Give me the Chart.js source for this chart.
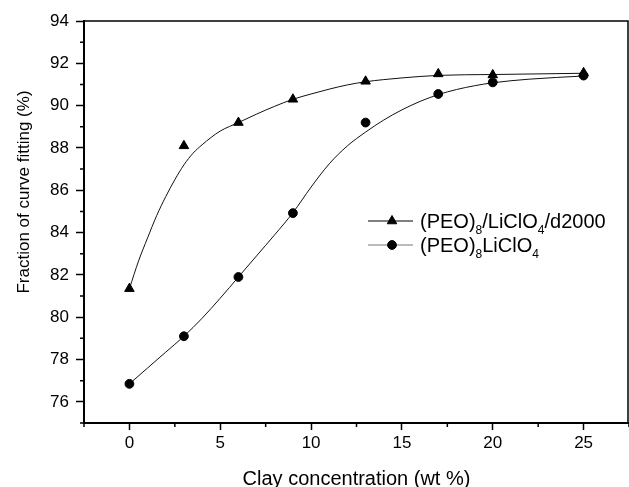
<!DOCTYPE html>
<html>
<head>
<meta charset="utf-8">
<script src="https://cdn.jsdelivr.net/npm/chart.js@4"></script>
<style>
  html, body { margin: 0; padding: 0; background: #fff; }
</style>
</head>
<body>
<canvas id="chart" width="629" height="487"></canvas>
<script>
// measured points
const clayConc = [0, 3, 6, 9, 13, 17, 20, 25];
const fracD2000 = [81.35, 88.1, 89.2, 90.3, 91.15, 91.5, 91.45, 91.55];
const fracPlain = [76.85, 79.1, 81.9, 84.92, 89.2, 90.55, 91.1, 91.42];

// fitted curves
const fitD2000X = [0, 0.5, 1, 1.5, 2, 2.5, 3, 3.5, 4, 4.5, 5, 6, 7, 8, 9, 10, 11, 12, 13, 14, 15, 17, 20, 25];
const fitD2000Y = [81.35, 82.65, 83.75, 84.8, 85.7, 86.5, 87.2, 87.75, 88.15, 88.5, 88.8, 89.2, 89.6, 89.97, 90.3, 90.55, 90.78, 90.98, 91.13, 91.23, 91.31, 91.43, 91.47, 91.53];
const fitPlainX = [0, 1, 2, 3, 4, 5, 6, 7, 8, 9, 10, 11, 12, 13, 14, 15, 16, 17, 18, 19, 20, 22, 25];
const fitPlainY = [76.85, 77.6, 78.35, 79.1, 79.95, 80.9, 81.9, 82.9, 83.9, 84.94, 86.15, 87.25, 88.1, 88.75, 89.32, 89.8, 90.2, 90.52, 90.76, 90.94, 91.08, 91.25, 91.4];

const seriesNames = ['(PEO)₈/LiClO₄/d2000', '(PEO)₈LiClO₄'];
// legend text pieces: normal, subscript, normal, subscript ...
const seriesLabelParts = [['(PEO)', '8', '/LiClO', '4', '/d2000'], ['(PEO)', '8', 'LiClO', '4']];
const legendLineColors = ['#000', '#777'];

const xTitle = 'Clay concentration (wt %)';
const yTitle = 'Fraction of curve fitting (%)';
const xTicks = [0, 5, 10, 15, 20, 25];
const xMinor = [-2.5, 2.5, 7.5, 12.5, 17.5, 22.5, 27.5];
const yTicks = [76, 78, 80, 82, 84, 86, 88, 90, 92, 94];
const yMinor = [75, 77, 79, 81, 83, 85, 87, 89, 91, 93];

const FONT = '"Liberation Sans", Arial, sans-serif';

function pts(xs, ys) {
  return xs.map((x, i) => ({ x: x, y: ys[i] }));
}

// minor ticks and the top/right frame
const frameTicks = {
  id: 'frameTicks',
  afterDraw(chart) {
    const { ctx, chartArea, scales } = chart;
    ctx.save();
    ctx.strokeStyle = '#000';
    ctx.lineWidth = 1.5;
    ctx.beginPath();
    xMinor.forEach(v => {
      const px = scales.x.getPixelForValue(v);
      ctx.moveTo(px, chartArea.bottom);
      ctx.lineTo(px, chartArea.bottom + 4);
    });
    yMinor.forEach(v => {
      const py = scales.y.getPixelForValue(v);
      ctx.moveTo(chartArea.left, py);
      ctx.lineTo(chartArea.left - 4, py);
    });
    ctx.stroke();
    ctx.beginPath();
    ctx.moveTo(chartArea.left, chartArea.top);
    ctx.lineTo(chartArea.right - 1, chartArea.top);
    ctx.lineTo(chartArea.right - 1, chartArea.bottom);
    ctx.stroke();
    ctx.restore();
  }
};

// y title sits a bit above the middle in the original
const yTitlePlugin = {
  id: 'yTitlePlugin',
  afterDraw(chart) {
    const ctx = chart.ctx;
    ctx.save();
    ctx.translate(24, 192);
    ctx.rotate(-Math.PI / 2);
    ctx.font = '17px ' + FONT;
    ctx.fillStyle = '#000';
    ctx.textAlign = 'center';
    ctx.textBaseline = 'middle';
    ctx.fillText(yTitle, 0, 0);
    ctx.restore();
  }
};

// legend with subscripts, inside the plot
const subLegend = {
  id: 'subLegend',
  afterDraw(chart) {
    const ctx = chart.ctx;
    const x0 = 368, y0 = 221, rowH = 24;
    seriesLabelParts.forEach((parts, i) => {
      const ds = chart.data.datasets[i];
      const y = y0 + i * rowH;
      ctx.save();
      ctx.strokeStyle = legendLineColors[i];
      ctx.lineWidth = 1;
      ctx.beginPath();
      ctx.moveTo(x0, y);
      ctx.lineTo(x0 + 45, y);
      ctx.stroke();
      ctx.fillStyle = '#000';
      ctx.strokeStyle = '#000';
      Chart.helpers.drawPoint(ctx, {
        pointStyle: ds.pointStyle,
        radius: ds.pointRadius,
        borderWidth: 1,
        rotation: 0
      }, x0 + 24, y);
      let tx = x0 + 52;
      ctx.textBaseline = 'alphabetic';
      parts.forEach((p, k) => {
        const sub = k % 2 === 1;
        ctx.font = (sub ? '12px ' : '20px ') + FONT;
        ctx.fillText(p, tx, sub ? y + 12.5 : y + 6.5);
        tx += ctx.measureText(p).width;
      });
      ctx.restore();
    });
  }
};

const ctx = document.getElementById('chart').getContext('2d');
const myChart = new Chart(ctx, {
  type: 'scatter',
  data: {
    datasets: [{
      label: seriesNames[0],
      data: pts(clayConc, fracD2000),
      pointStyle: 'triangle',
      pointRadius: 5.5,
      backgroundColor: '#000',
      borderColor: '#000',
      borderWidth: 1
    }, {
      label: seriesNames[1],
      data: pts(clayConc, fracPlain),
      pointStyle: 'circle',
      pointRadius: 4.4,
      backgroundColor: '#000',
      borderColor: '#000',
      borderWidth: 1
    }, {
      label: 'fit d2000',
      data: pts(fitD2000X, fitD2000Y),
      showLine: true,
      pointRadius: 0,
      borderColor: '#111',
      borderWidth: 1,
      cubicInterpolationMode: 'monotone'
    }, {
      label: 'fit plain',
      data: pts(fitPlainX, fitPlainY),
      showLine: true,
      pointRadius: 0,
      borderColor: '#111',
      borderWidth: 1,
      cubicInterpolationMode: 'monotone'
    }]
  },
  options: {
    responsive: false,
    animation: false,
    devicePixelRatio: 1,
    layout: { autoPadding: false, padding: { top: 21, right: 0, bottom: 0, left: 0 } },
    plugins: {
      legend: { display: false },
      tooltip: { enabled: false }
    },
    scales: {
      x: {
        type: 'linear',
        min: -2.5,
        max: 27.5,
        afterBuildTicks: s => { s.ticks = xTicks.map(v => ({ value: v })); },
        afterFit: s => { s.height = 64; },
        grid: { drawOnChartArea: false, drawTicks: true, tickLength: 7, tickWidth: 1.5, tickColor: '#000' },
        border: { display: true, color: '#000', width: 2 },
        ticks: { color: '#000', font: { family: FONT, size: 17 }, padding: 3, maxRotation: 0 },
        title: {
          display: true,
          text: xTitle,
          color: '#000',
          font: { family: FONT, size: 20, lineHeight: 1 },
          padding: { top: 0, bottom: -2 }
        }
      },
      y: {
        min: 75,
        max: 94,
        afterBuildTicks: s => { s.ticks = yTicks.map(v => ({ value: v })); },
        afterFit: s => { s.width = 84; },
        grid: { drawOnChartArea: false, drawTicks: true, tickLength: 8, tickWidth: 1.5, tickColor: '#000' },
        border: { display: true, color: '#000', width: 2 },
        ticks: { color: '#000', font: { family: FONT, size: 17 }, padding: 7 }
      }
    }
  },
  plugins: [frameTicks, yTitlePlugin, subLegend]
});
</script>
</body>
</html>
